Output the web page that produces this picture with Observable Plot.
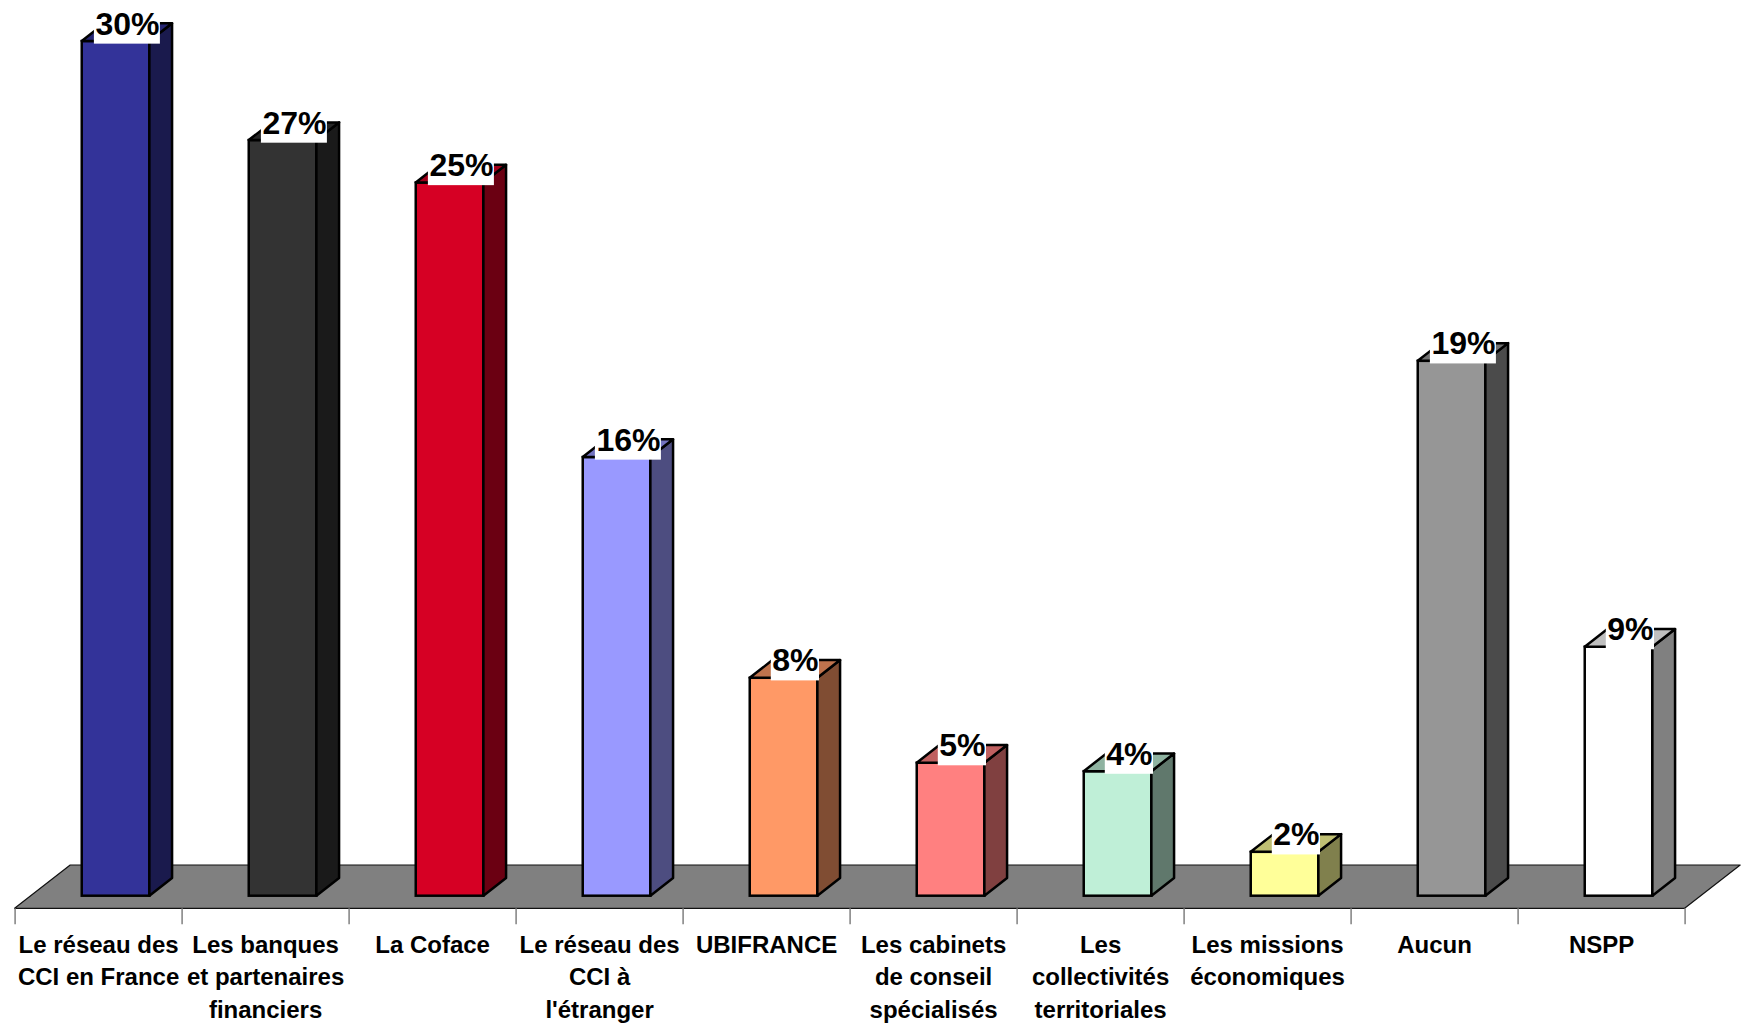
<!DOCTYPE html>
<html>
<head>
<meta charset="utf-8">
<script src="https://cdn.jsdelivr.net/npm/d3@7"></script>
<script src="https://cdn.jsdelivr.net/npm/@observablehq/plot@0.6"></script>
<style>
  html, body { margin: 0; padding: 0; background: #fff; }
  #chart { width: 1750px; height: 1027px; }
</style>
</head>
<body>
<div id="chart"></div>
<script>
// ---- Data ----
const categories = [
  "Le réseau des\nCCI en France",
  "Les banques\net partenaires\nfinanciers",
  "La Coface",
  "Le réseau des\nCCI à\nl'étranger",
  "UBIFRANCE",
  "Les cabinets\nde conseil\nspécialisés",
  "Les\ncollectivités\nterritoriales",
  "Les missions\néconomiques",
  "Aucun",
  "NSPP"
];
const values = [30.2, 26.7, 25.2, 15.5, 7.7, 4.7, 4.4, 1.55, 18.9, 8.8];
const valueLabels = ["30%", "27%", "25%", "16%", "8%", "5%", "4%", "2%", "19%", "9%"];
const colors = ["#333399", "#333333", "#d60024", "#9999ff", "#ff9966", "#ff8080", "#bfefd7", "#ffff99", "#969696", "#ffffff"];

// ---- Layout (pixels) ----
const W = 1750, H = 1027;
const mL = 30.8, mR = 49.2, mT = 46.7, mB = 131.3;
const yMax = 30;
const n = categories.length;
const kx = (W - mL - mR) / n;        // px per category band
const ky = (H - mT - mB) / yMax;     // px per percent
const barStart = 0.305, barWidth = 0.405;   // in band units
const dX = 22.7 / kx, dY = 17.7 / ky;       // bar depth in data units
const floorFrontX = -16.2 / kx, floorFrontY = -12.6 / ky;
const floorBackX = 39.4 / kx, floorBackY = 30.7 / ky;

function shade(c, f) {
  const r = d3.rgb(c);
  return d3.rgb(r.r * f, r.g * f, r.b * f).formatHex();
}

const bars = categories.map((name, i) => ({
  i, name, v: values[i], label: valueLabels[i],
  front: colors[i], top: shade(colors[i], 0.75), side: shade(colors[i], 0.5),
  x1: i + barStart, x2: i + barStart + barWidth
}));

const sidePts = bars.flatMap(d => [
  {i: d.i, x: d.x2, y1: 0, y2: d.v, fill: d.side},
  {i: d.i, x: d.x2 + dX, y1: dY, y2: d.v + dY, fill: d.side}
]);
const topPts = bars.flatMap(d => [
  {i: d.i, y: d.v, x1: d.x1, x2: d.x2, fill: d.top},
  {i: d.i, y: d.v + dY, x1: d.x1 + dX, x2: d.x2 + dX, fill: d.top}
]);
const floorPts = [
  {y: floorFrontY, x1: floorFrontX, x2: n + floorFrontX},
  {y: floorBackY, x1: floorBackX, x2: n + floorBackX}
];

const labelX = d => d.x1 + barWidth / 2 + dX / 2;
const labelW = d => (17.8 * (d.label.length - 1) + 28.4 + 2) / kx;

const plot = Plot.plot({
  width: W,
  height: H,
  marginLeft: mL, marginRight: mR, marginTop: mT, marginBottom: mB,
  x: {type: "linear", domain: [0, n], axis: null},
  y: {type: "linear", domain: [0, yMax], axis: null},
  style: {fontFamily: "'Liberation Sans', Arial, sans-serif", background: "white", overflow: "visible"},
  marks: [
    Plot.areaX(floorPts, {y: "y", x1: "x1", x2: "x2", fill: "#808080", stroke: "#111", strokeWidth: 1.2}),
    Plot.ruleX(d3.range(n + 1), {x: d => d + floorFrontX, y1: floorFrontY, y2: floorFrontY - 16 / ky, stroke: "#808080", strokeWidth: 1.5}),
    Plot.rect(bars, {x1: "x1", x2: "x2", y1: 0, y2: "v", fill: "front", stroke: "#000", strokeWidth: 2.5}),
    Plot.areaY(sidePts, {x: "x", y1: "y1", y2: "y2", z: "i", fill: "fill", stroke: "#000", strokeWidth: 2.5, strokeLinejoin: "round"}),
    Plot.areaX(topPts, {y: "y", x1: "x1", x2: "x2", z: "i", fill: "fill", stroke: "#000", strokeWidth: 2.5, strokeLinejoin: "round"}),
    Plot.rect(bars, {
      x1: d => labelX(d) - labelW(d) / 2, x2: d => labelX(d) + labelW(d) / 2,
      y1: d => d.v - 2.6 / ky, y2: d => d.v + 32 / ky, fill: "white"
    }),
    Plot.text(bars, {x: labelX, y: "v", text: "label", dy: -7, lineAnchor: "bottom", fontSize: 32, fontWeight: "bold", fill: "#000"}),
    Plot.text(bars, {
      x: d => d.i + 0.5 + floorFrontX, y: floorFrontY, dy: 21.3,
      text: "name", lineAnchor: "top", fontSize: 24, fontWeight: "bold", lineHeight: 1.345, fill: "#000"
    })
  ]
});
document.getElementById("chart").appendChild(plot);
</script>
</body>
</html>
